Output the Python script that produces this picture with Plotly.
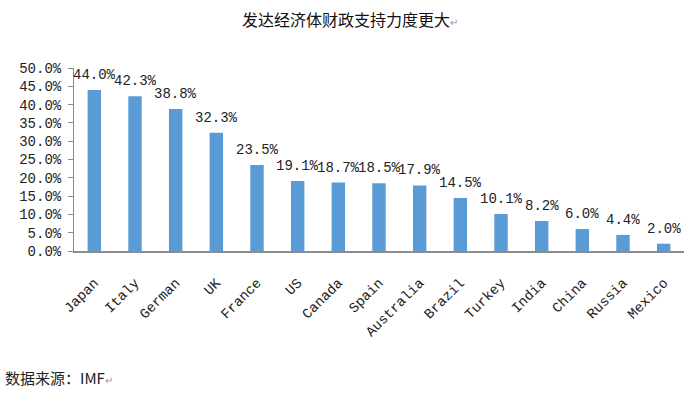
import plotly.graph_objects as go

countries = ["Japan", "Italy", "German", "UK", "France", "US", "Canada", "Spain",
             "Australia", "Brazil", "Turkey", "India", "China", "Russia", "Mexico"]
support_pct = [44.0, 42.3, 38.8, 32.3, 23.5, 19.1, 18.7, 18.5, 17.9, 14.5, 10.1, 8.2, 6.0, 4.4, 2.0]
y_tickvals = [0, 5, 10, 15, 20, 25, 30, 35, 40, 45, 50]
y_ticktext = [f"{v:.1f}%" for v in y_tickvals]
labels = [f"{v:.1f}%" for v in support_pct]

mono = "Liberation Mono, DejaVu Sans Mono, monospace"
cjk = "Noto Sans CJK SC, sans-serif"

fig = go.Figure()
fig.add_trace(go.Bar(
    x=countries, y=support_pct,
    marker=dict(color="#5B9BD5", line=dict(width=0)),
    width=0.33,
))

for c, v, t in zip(countries, support_pct, labels):
    fig.add_annotation(x=c, y=v, text=t, showarrow=False, yshift=15,
                       font=dict(family=mono, size=14, color="#222"))

fig.update_layout(
    width=700, height=398,
    margin=dict(l=74, r=16, t=68, b=147),
    plot_bgcolor="white", paper_bgcolor="white",
    showlegend=False,
    title=dict(text="发达经济体财政支持力度更大<span style='font-size:10px;color:#999'>↵</span>",
               x=0.5, xanchor="center", y=0.95, yanchor="middle",
               font=dict(family=cjk, size=16, color="#111")),
    xaxis=dict(
        tickangle=-45, showline=True, linecolor="#8c8c8c", linewidth=2,
        ticks="", tickfont=dict(family=mono, size=14, color="#222"),
        showgrid=False, range=[-0.5, 14.5], automargin=False,
        ticklabelstandoff=16,
    ),
    yaxis=dict(
        range=[0, 50], tickvals=y_tickvals, ticktext=y_ticktext,
        showline=True, linecolor="#8c8c8c", linewidth=1,
        ticks="outside", ticklen=5, tickcolor="#8c8c8c",
        tickfont=dict(family=mono, size=14, color="#222"),
        showgrid=False, zeroline=False, automargin=False,
        ticklabelstandoff=4,
    ),
)

fig.add_annotation(xref="paper", yref="paper", x=0, y=0, xshift=-71, yshift=-126,
                   xanchor="left", yanchor="middle", showarrow=False,
                   text="数据来源：IMF<span style='font-size:10px;color:#999'>↵</span>",
                   font=dict(family=cjk, size=15, color="#222"))

fig.write_html("out.html", config={"displayModeBar": False},
               post_script="document.body.style.margin='0';document.body.style.overflow='hidden';")
